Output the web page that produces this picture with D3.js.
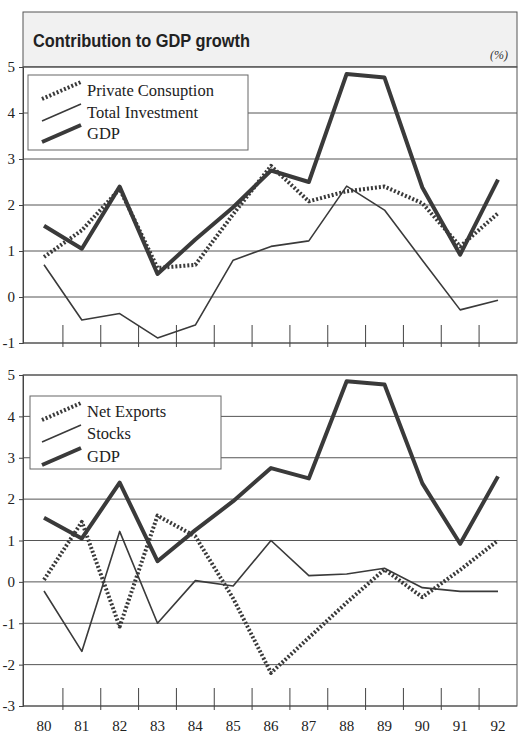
<!DOCTYPE html>
<html>
<head>
<meta charset="utf-8">
<script src="https://cdn.jsdelivr.net/npm/d3@7"></script>
<style>
  body { margin: 0; background: #fff; }
  svg { display: block; }
</style>
</head>
<body>
<svg id="chart_svg" width="525" height="739"></svg>
<script>
// data
var years = ["80","81","82","83","84","85","86","87","88","89","90","91","92"];
var gdp = [1.55, 1.05, 2.4, 0.5, 1.25, 1.95, 2.75, 2.5, 4.85, 4.77, 2.38, 0.92, 2.55];
var privateCons = [0.87, 1.45, 2.35, 0.63, 0.7, 1.8, 2.85, 2.08, 2.3, 2.4, 2.04, 1.1, 1.82];
var totalInvestment = [0.7, -0.5, -0.36, -0.89, -0.61, 0.8, 1.1, 1.22, 2.41, 1.89, 0.8, -0.28, -0.07];
var netExports = [0.05, 1.45, -1.08, 1.6, 1.1, -0.4, -2.2, -1.35, -0.5, 0.3, -0.37, 0.29, 1.0];
var stocks = [-0.22, -1.68, 1.22, -1.0, 0.03, -0.1, 1.0, 0.15, 0.19, 0.33, -0.14, -0.23, -0.23];
var topTicks = [-1, 0, 1, 2, 3, 4, 5];
var bottomTicks = [-3, -2, -1, 0, 1, 2, 3, 4, 5];

var svg = d3.select("#chart_svg");
var serif = "'Liberation Serif', 'DejaVu Serif', serif";
var lineColor = "#3a3a3a";
var plotLeft = 23, plotRight = 517;

var xScale = d3.scalePoint().domain(years).range([44, 498]);

//Title band
svg.append("rect")
  .attr("x", plotLeft).attr("y", 12)
  .attr("width", plotRight - plotLeft).attr("height", 55)
  .attr("fill", "#f1f1f1")
  .attr("stroke", "#555").attr("stroke-width", 1);

svg.append("text")
  .attr("x", 33).attr("y", 47)
  .attr("font-family", "'Liberation Sans', Arial, sans-serif")
  .attr("font-weight", "bold")
  .attr("font-size", 17.5)
  .attr("textLength", 217)
  .attr("lengthAdjust", "spacingAndGlyphs")
  .attr("fill", "#222")
  .text("Contribution to GDP growth");

svg.append("text")
  .attr("x", 508).attr("y", 59)
  .attr("text-anchor", "end")
  .attr("font-family", serif)
  .attr("font-style", "italic")
  .attr("font-size", 12)
  .attr("fill", "#333")
  .text("(%)");

function drawPanel(opts) {
  var yScale = d3.scaleLinear().domain(opts.domain).range([opts.bottom, opts.top]);
  var g = svg.append("g");

  // frame
  g.append("rect")
    .attr("x", plotLeft).attr("y", opts.top)
    .attr("width", plotRight - plotLeft).attr("height", opts.bottom - opts.top)
    .attr("fill", "#fff")
    .attr("stroke", "#555").attr("stroke-width", 1);

  // gridlines
  g.selectAll(".grid")
    .data(opts.ticks)
    .enter()
    .append("line")
    .attr("x1", plotLeft).attr("x2", plotRight)
    .attr("y1", d => yScale(d)).attr("y2", d => yScale(d))
    .attr("stroke", "#555").attr("stroke-width", 1);

  // y axis (plain hyphen for negatives, as in the print)
  var yAxis = g.append("g")
    .attr("transform", `translate(${plotLeft},0)`)
    .call(d3.axisLeft(yScale).tickValues(opts.ticks).tickSize(4).tickPadding(4).tickFormat(d => String(d)));
  yAxis.select(".domain").attr("stroke", "#444");
  yAxis.selectAll("line").attr("stroke", "#444");
  yAxis.selectAll("text")
    .attr("font-family", serif)
    .attr("font-size", 15)
    .attr("fill", "#222");

  // x ticks between years
  var step = xScale.step();
  g.selectAll(".xtick")
    .data(years.slice(0, years.length - 1))
    .enter()
    .append("line")
    .attr("x1", d => xScale(d) + step / 2).attr("x2", d => xScale(d) + step / 2)
    .attr("y1", opts.bottom - 18).attr("y2", opts.bottom + 4)
    .attr("stroke", "#444").attr("stroke-width", 1);

  // lines
  var line = d3.line()
    .x((d, i) => xScale(years[i]))
    .y(d => yScale(d));

  opts.series.forEach(function(s) {
    g.append("path")
      .datum(s.values)
      .attr("d", line)
      .attr("fill", "none")
      .attr("stroke", lineColor)
      .attr("stroke-width", s.width)
      .attr("stroke-dasharray", s.dash || null)
      .attr("stroke-linejoin", "round");
  });

  // legend
  var lg = opts.legend;
  g.append("rect")
    .attr("x", lg.x).attr("y", lg.y)
    .attr("width", lg.w).attr("height", lg.h)
    .attr("fill", "#fff")
    .attr("stroke", "#666").attr("stroke-width", 1);

  opts.series.forEach(function(s, i) {
    var by = lg.rows[i];
    g.append("line")
      .attr("x1", 42).attr("y1", by + 3)
      .attr("x2", 81).attr("y2", by - 14)
      .attr("stroke", lineColor)
      .attr("stroke-width", s.width)
      .attr("stroke-dasharray", s.dash || null);
    g.append("text")
      .attr("x", 87).attr("y", by)
      .attr("font-family", serif)
      .attr("font-size", 16.5)
      .attr("fill", "#222")
      .text(s.name);
  });
}

drawPanel({
  domain: [-1, 5], top: 67, bottom: 343, ticks: topTicks,
  series: [
    { name: "Private Consuption", values: privateCons, width: 4, dash: "2,2" },
    { name: "Total Investment", values: totalInvestment, width: 1.6 },
    { name: "GDP", values: gdp, width: 4 }
  ],
  legend: { x: 28, y: 75, w: 220, h: 75, rows: [96, 118, 139] }
});

drawPanel({
  domain: [-3, 5], top: 375, bottom: 706, ticks: bottomTicks,
  series: [
    { name: "Net Exports", values: netExports, width: 4, dash: "2,2" },
    { name: "Stocks", values: stocks, width: 1.6 },
    { name: "GDP", values: gdp, width: 4 }
  ],
  legend: { x: 30, y: 396, w: 191, h: 73, rows: [417, 439, 462] }
});

// year labels
svg.selectAll(".year")
  .data(years)
  .enter()
  .append("text")
  .attr("x", d => xScale(d))
  .attr("y", 731)
  .attr("text-anchor", "middle")
  .attr("font-family", serif)
  .attr("font-size", 15)
  .attr("fill", "#222")
  .text(d => d);
</script>
</body>
</html>
